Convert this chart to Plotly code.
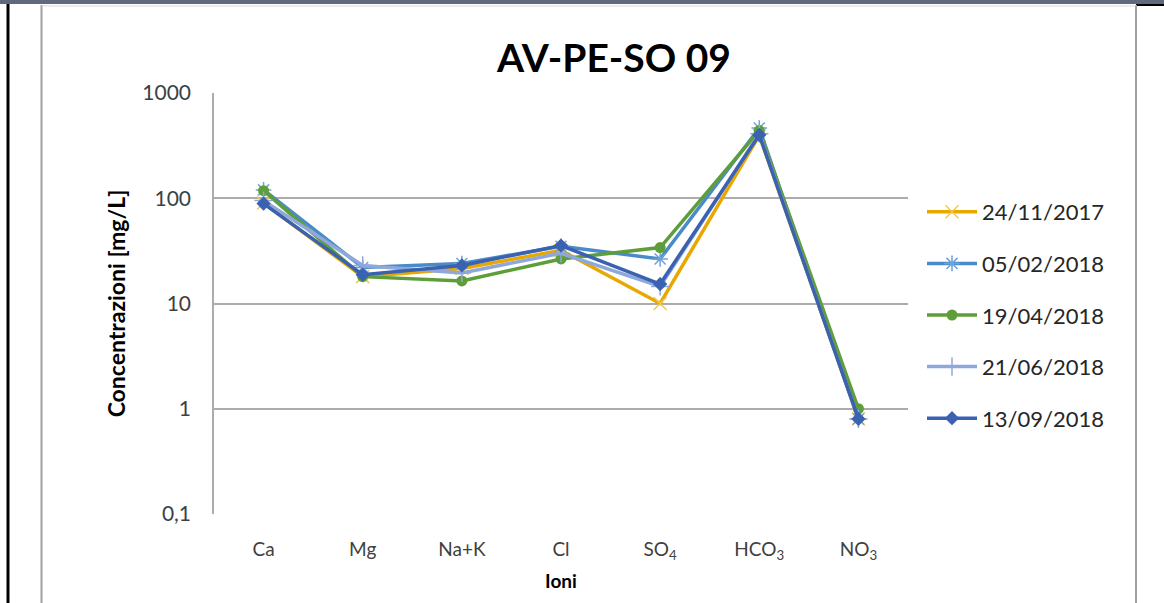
import plotly.graph_objects as go

# ions on the x axis
ioni = ["Ca", "Mg", "Na+K", "Cl", "SO<sub>4</sub>", "HCO<sub>3</sub>", "NO<sub>3</sub>"]

# concentrations [mg/L]
c_24_11_2017 = [90, 18, 21.5, 32, 10, 395, 0.8]
c_05_02_2018 = [120, 22, 24, 35, 26.5, 465, 0.8]
c_19_04_2018 = [118, 18, 16.4, 26.5, 34, 440, 1.0]
c_21_06_2018 = [95, 23, 19.5, 30, 14.5, 410, 0.8]
c_13_09_2018 = [89, 18.8, 23, 35.5, 15.3, 400, 0.8]

y_ticks = [0.1, 1, 10, 100, 1000]
y_tick_text = ["0,1", "1", "10", "100", "1000"]

series = [
    ("24/11/2017", c_24_11_2017, "#E9A800", "x-thin", "#F2C84B"),
    ("05/02/2018", c_05_02_2018, "#4A8AC8", "asterisk", "#6FA3D8"),
    ("19/04/2018", c_19_04_2018, "#5E9E3A", "circle", "#5E9E3A"),
    ("21/06/2018", c_21_06_2018, "#8EA8DC", "cross-thin", "#8EA8DC"),
    ("13/09/2018", c_13_09_2018, "#3A62B0", "diamond", "#3A62B0"),
]

fig = go.Figure()
for name, vals, col, sym, mcol in series:
    thin = sym in ("x-thin", "cross-thin", "asterisk")
    fig.add_trace(go.Scatter(
        x=ioni, y=vals, name=name, mode="lines+markers",
        legendgroup=name,
        line=dict(color=col, width=3.5),
        marker=dict(symbol=sym, size=13 if thin else 11, color=mcol,
                    line=dict(color=mcol, width=1.5 if thin else 0)),
    ))

W, H = 1164, 603
L, R, T, B = 214, 256, 93, 89
pw, ph = W - L - R, H - T - B


def px(x):
    return (x - L) / pw


def py(y):
    return (H - B - y) / ph


frame = [
    # dark strip on top
    dict(type="rect", x0=px(0), x1=px(W), y0=py(0), y1=py(4),
         fillcolor="#5D6B7B", line_width=0),
    dict(type="line", x0=px(1136), x1=px(W), y0=py(5), y1=py(5),
         line=dict(color="black", width=2)),
    # left black border
    dict(type="line", x0=px(8), x1=px(8), y0=py(4), y1=py(H),
         line=dict(color="black", width=3)),
    # chart area frame
    dict(type="line", x0=px(41.5), x1=px(41.5), y0=py(5), y1=py(H),
         line=dict(color="#A0A0A0", width=2)),
    dict(type="line", x0=px(1136), x1=px(1136), y0=py(5), y1=py(H),
         line=dict(color="#A0A0A0", width=2)),
    dict(type="line", x0=px(41.5), x1=px(1136), y0=py(6), y1=py(6),
         line=dict(color="#D9D9D9", width=1)),
]
for s in frame:
    s.update(xref="paper", yref="paper", layer="below")

fig.update_layout(
    width=W, height=H,
    margin=dict(l=L, r=R, t=T, b=B),
    paper_bgcolor="white", plot_bgcolor="white",
    font=dict(family="Lato, Open Sans, sans-serif", color="#404040"),
    title=dict(text="<b>AV-PE-SO 09</b>", x=px(614), xref="paper", xanchor="center",
               y=1 - 58 / H, yanchor="middle",
               font=dict(size=39, color="black")),
    shapes=frame,
    showlegend=True,
    legend=dict(x=px(922), xanchor="left", y=py(315), yanchor="middle",
                font=dict(size=22, color="#262626"), itemwidth=50,
                tracegroupgap=20, bgcolor="rgba(0,0,0,0)"),
)

fig.update_xaxes(
    type="category", range=[-0.5, len(ioni) - 0.5],
    showgrid=False, zeroline=False,
    showline=False, ticks="", ticklabelstandoff=22,
    tickfont=dict(size=19, color="#404040"),
    title=dict(text="<b>Ioni</b>", font=dict(size=19, color="black"), standoff=12),
)
fig.update_yaxes(
    type="log", range=[-1, 3], tickvals=y_ticks, ticktext=y_tick_text,
    showgrid=True, gridcolor="#ACACAC", gridwidth=1.5,
    showline=True, linecolor="#ACACAC", linewidth=1.5,
    zeroline=False, ticks="", ticklabelstandoff=17,
    tickfont=dict(size=21, color="#404040"),
    title=dict(text="<b>Concentrazioni [mg/L]</b>", font=dict(size=23, color="black"),
               standoff=10),
)

# the page's default body margin would shift the figure by 8 px
fig.write_html("out.html", config={"displayModeBar": False},
               post_script="document.body.style.margin='0';")
